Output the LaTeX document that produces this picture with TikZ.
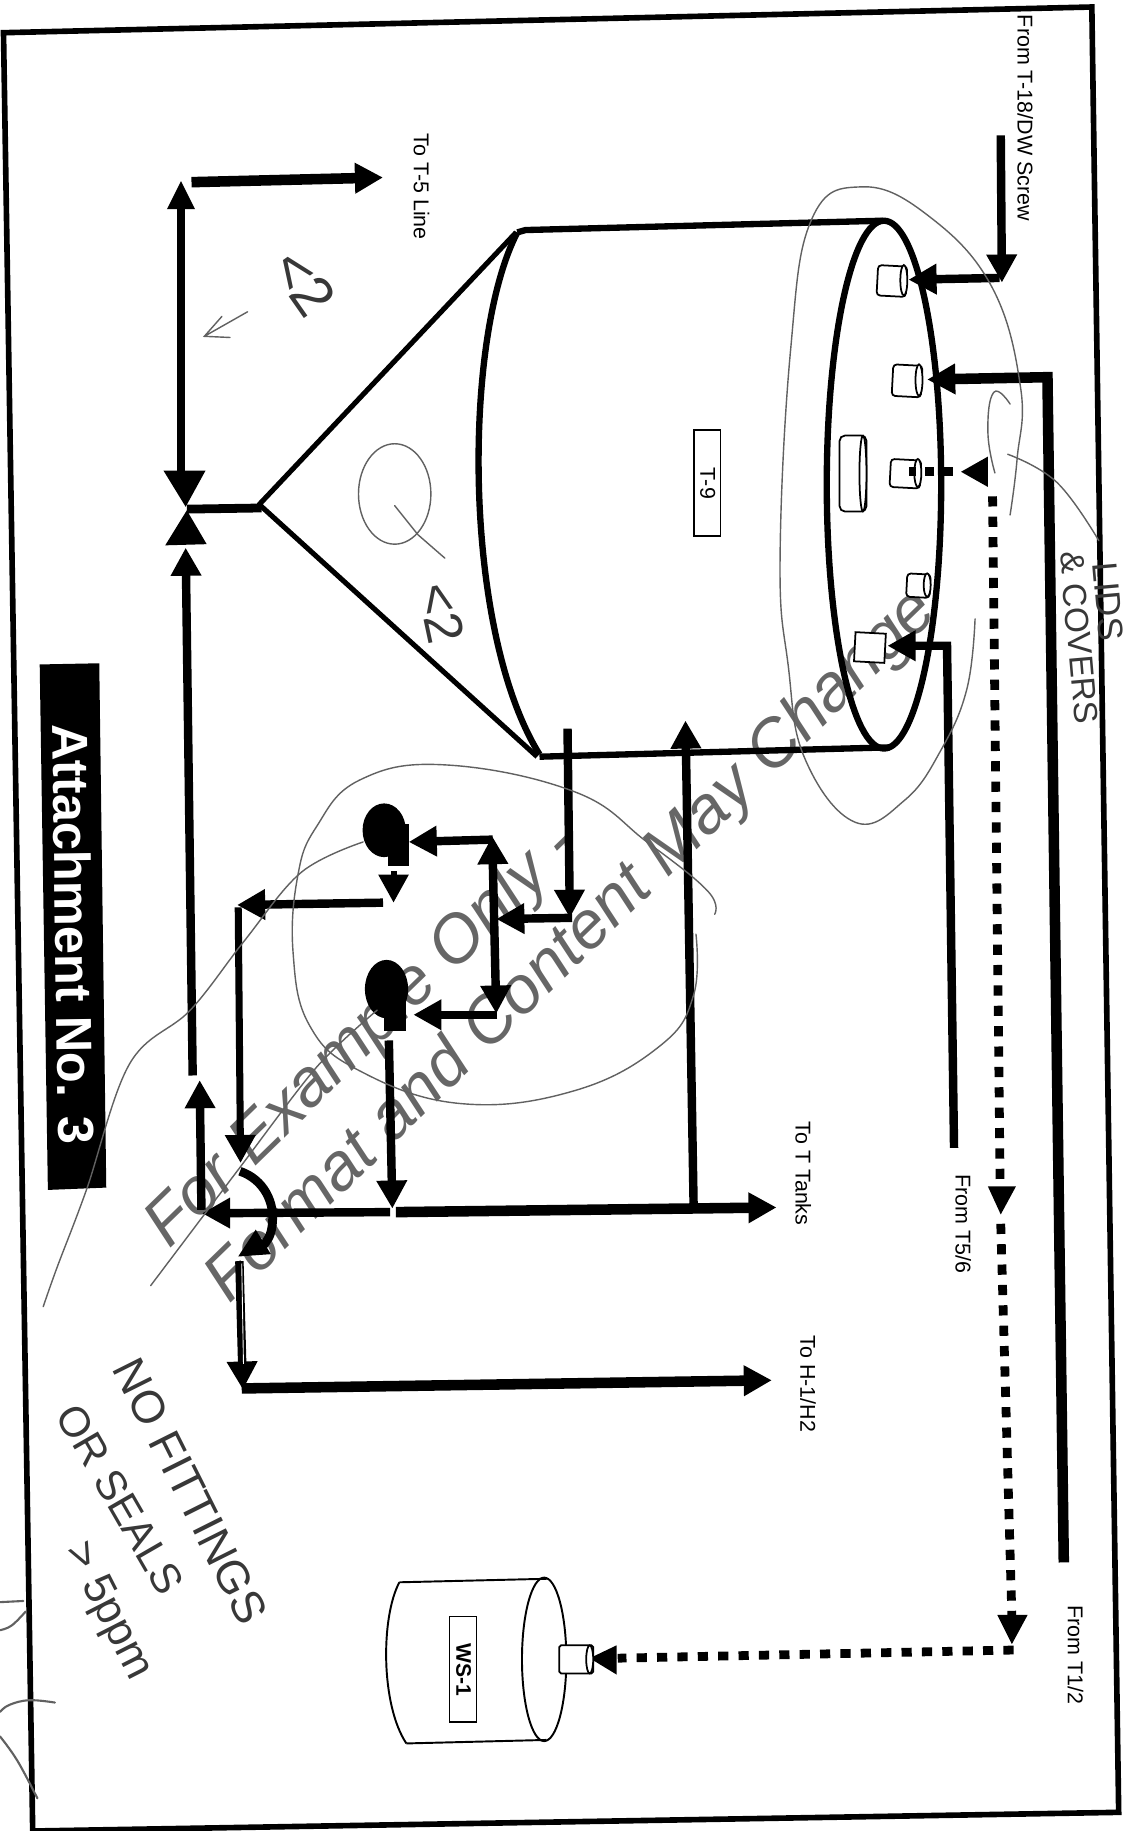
\documentclass[tikz,border=0pt]{standalone}
\usepackage{fontspec}
\setmainfont{Liberation Sans}
\usetikzlibrary{arrows.meta}
\tikzset{
  pipe/.style={line width=4.8pt,draw=black},
  heavypipe/.style={line width=6pt,draw=black},
  hd/.style={-{Triangle[length=16pt,width=16.5pt]}},
  hdboth/.style={{Triangle[length=16pt,width=16.5pt]}-{Triangle[length=16pt,width=16.5pt]}},
  dashpipe/.style={line width=5pt,draw=black,dash pattern=on 5.8pt off 5.8pt},
  shellline/.style={line width=3.6pt,draw=black,line join=round},
  coneline/.style={line width=2.9pt,draw=black,line join=round},
  thinshell/.style={line width=1pt,draw=black,fill=white},
  labeltext/.style={rotate=-90,font=\fontsize{12.2}{14}\selectfont,inner sep=0pt},
  tagbox/.style={draw=black,line width=0.9pt,fill=white,inner sep=0pt},
  penmark/.style={line width=0.8pt,draw=black!62,line cap=round},
  handtext/.style={text=black!78,inner sep=0pt},
  water/.style={text=black!60,inner sep=0pt,rotate=44.2,font=\itshape\fontsize{38}{40}\selectfont},
}
\newcommand{\nozzle}[5]{%
  \draw[thinshell,rounded corners=2pt,rotate around={-3:(#1,#3)}] (#1,#3) rectangle (#2,#4);
  \draw[thinshell] (#2-3,{(#3+#4)/2}) ellipse [x radius=3,y radius={(#4-#3)/2}];
  \coordinate (#5) at (#2,{(#3+#4)/2});
}
\begin{document}
\begin{tikzpicture}[x=0.02336cm,y=-0.02336cm]
\useasboundingbox (0,0) rectangle (965,1568);
\fill[white] (0,0) rectangle (965,1568);

% watermark under the drawing
\node[water] (wm1) at (311,888) {For Example Only -};
\node[water] (wm2) at (490,811) {Format and Content May Change};

% frame
\draw[line width=3.2pt,line join=miter] (3,28) -- (935,6) -- (958,1552) -- (28,1568) -- cycle;

% title bar
\fill[black] (34,569) -- (85,568) -- (91,1017) -- (41,1019) -- cycle;
\node[rotate=-89.2,text=white,inner sep=0pt,font=\bfseries\fontsize{28.8}{30}\selectfont] (title) at (63,800) {Attachment No. 3};

% T-9 tank
\draw[shellline] (443,199) .. controls (396,290) and (396,540) .. (462,646);
\draw[shellline] (443,199) -- (450,197) -- (756,189);
\draw[shellline] (462,648) -- (762,640);
\draw[shellline] (757,415) ellipse [x radius=49,y radius=226];
\draw[coneline] (442,199) -- (222,432) -- (460,648);
\draw[line width=5pt] (224,435) -- (160,436);
\node[tagbox,minimum width=15.2pt,minimum height=60.3pt] (t9) at (605.5,413.5) {};
\node[labeltext] (t9t) at (606,414) {T-9};

\nozzle{752}{777}{227}{253}{n1}
\nozzle{765}{790}{312}{339}{n2}
\nozzle{763}{789}{393}{417}{n3}
\draw[thinshell,rounded corners=3pt] (719,373) rectangle (742,438);
\draw[thinshell] (739,405.5) ellipse [x radius=3,y radius=32.5];
\nozzle{777}{797}{491}{511}{n4}
\draw[thinshell,rotate around={-3:(745,554)}] (732,542) rectangle (758,567);
\coordinate (n5) at (759,553);

% valve
\fill[black] (140,403) -- (176,403) -- (159,434) -- cycle;
\fill[black] (141.5,467) -- (177,466) -- (160,437) -- cycle;
\coordinate (vtop) at (155,404);
\coordinate (vbot) at (159,469);

% To T-5 line
\coordinate (t5c) at (155,155);
\coordinate (t5a) at (164,156);
\coordinate (t5b) at (328,152);
\draw[pipe] (vtop) -- (155,178);
\fill[black] (143,179) -- (167,179) -- (155,155) -- cycle;
\draw[heavypipe,hd] (t5a) -- (t5b);

% feed into valve
\coordinate (vf) at (165,921);
\draw[pipe,hd] (vf) -- (vbot);

% feed up from main header
\coordinate (hleft) at (173,1039);
\coordinate (hup) at (171,925);
\draw[pipe,hd] (172.5,1036) -- (hup);

% main header
\coordinate (hm1) at (334,1038);
\coordinate (hm2) at (339,1038);
\coordinate (hend) at (665,1034);
\draw[pipe,hd] (hm1) -- (hleft);
\draw[heavypipe,hd] (hm2) -- (hend);

% branch to tank
\coordinate (bt0) at (594,1034);
\coordinate (bt1) at (587,617);
\draw[pipe,hd] (bt0) -- (bt1);

% tank outlet
\coordinate (to0) at (486,624);
\coordinate (to1) at (488,786);
\coordinate (to2) at (425,787);
\draw[pipe,hd] (to0) -- (to1);
\draw[pipe,hd] (490,786) -- (to2);

% manifold
\coordinate (mt) at (421.5,716);
\coordinate (mb) at (425,868);
\draw[pipe,hdboth] (mt) -- (mb);

% pumps
\fill[black] (329,711) ellipse [x radius=18.5,y radius=23];
\fill[black] (332,706) rectangle (350,742);
\fill[black] (331,847) ellipse [x radius=18.5,y radius=25];
\fill[black] (329,852) rectangle (348,883);
\coordinate (p1) at (350,721);
\coordinate (p2) at (354,869);
\draw[pipe,hd] (422,719) -- (p1);
\draw[pipe,hd] (426,869) -- (p2);

% upper pump discharge
\coordinate (pd1) at (337,746);
\coordinate (pd2) at (337,773);
\draw[line width=3.4pt,hd] (pd1) -- (pd2);
\coordinate (pd3) at (328,773);
\coordinate (pd4) at (203,775);
\draw[pipe,hd] (pd3) -- (pd4);
\coordinate (pd5) at (204,777);
\coordinate (pd6) at (206,996);
\draw[line width=4pt,hd] (pd5) -- (pd6);

% lower pump discharge
\coordinate (pl1) at (333,891);
\coordinate (pl2) at (336,1035);
\draw[pipe,hd] (pl1) -- (pl2);

% curved arrow
\draw[line width=5pt] (205.5,1003) .. controls (226,1010) and (236,1030) .. (233,1050) .. controls (232,1058) and (229,1063) .. (224,1068);
\fill[black] (204,1076) -- (219,1053) -- (232,1074) -- cycle;

% line to H-1/H2
\coordinate (h0) at (205,1080);
\coordinate (h1) at (208,1190);
\coordinate (h2) at (207,1189);
\coordinate (h3) at (661,1182);
\draw[pipe,hd] (h0) -- (h1);
\draw[white,line width=0.5pt] (207,1082) -- (208.5,1168);
\draw[heavypipe,hd] (h2) -- (h3);

% lid feeds
\coordinate (s0) at (857,116);
\coordinate (s1) at (858,242);
\draw[pipe,hd] (s0) -- (s1);
\draw[pipe,hd] (856,238) -- (778,239.5);
\draw[heavypipe,hd,line join=miter] (911,1338) -- (897,323) -- (794,325);
\draw[pipe,hd,line join=miter] (817,983) -- (811,553) -- (760,553);

% dashed lines
\draw[dashpipe] (850,425) -- (856.5,1016);
\fill[black] (846,1016) -- (870,1016) -- (857,1040) -- cycle;
\draw[dashpipe] (857,1048) -- (866.5,1383);
\fill[black] (854,1383) -- (880,1383) -- (866.5,1408) -- cycle;
\draw[dashpipe] (868,1413) -- (529,1420);
\fill[black] (528,1409) -- (528,1434) -- (505,1420) -- cycle;
\fill[black] (846,391) -- (846,417) -- (823,404) -- cycle;
\draw[line width=5pt,dash pattern=on 5.3pt off 5.3pt] (816,404) -- (778,404);

% WS-1
\draw[line width=1.1pt] (342,1355) .. controls (326,1385) and (326,1460) .. (348,1493);
\draw[line width=1.1pt] (342,1355) -- (468,1352);
\draw[line width=1.1pt] (348,1493) -- (468,1490);
\draw[line width=1.1pt] (466,1421) ellipse [x radius=19,y radius=70];
\node[tagbox,minimum width=15.2pt,minimum height=60.3pt] (ws) at (396.5,1429.5) {};
\node[labeltext,font=\bfseries\fontsize{12}{14}\selectfont] (wst) at (397,1430) {WS-1};
\draw[thinshell,rounded corners=1pt] (479,1409) rectangle (508,1433);
\draw[thinshell] (505,1421) ellipse [x radius=3,y radius=12];

% labels
\node[labeltext] (l1) at (361,160) {To T-5 Line};
\node[labeltext] (l2) at (878,101) {From T-18/DW Screw};
\node[labeltext] (l3) at (688,1005) {To T Tanks};
\node[labeltext] (l4) at (692,1185) {To H-1/H2};
\node[labeltext] (l5) at (825,1048) {From T5/6};
\node[labeltext] (l6) at (921,1417) {From T1/2};

% pen marks
\draw[penmark] (338,423) ellipse [x radius=31,y radius=43];
\draw[penmark] (338,433) -- (358,458) -- (381,478);
\draw[penmark] (212,267) -- (175,288) (190,271) -- (175,288) -- (197,289);
\draw[penmark] plot[smooth,tension=0.7] coordinates {(865,441) (871,393) (874,332) (849,245) (794,184) (738,160) (695,188) (677,300) (668,480) (675,570) (689,649) (732,704) (775,685) (806,642) (828,590) (835,530)};
\draw[penmark] plot[smooth,tension=0.8] coordinates {(865,346) (851,336) (846,370) (852,405)};
\draw[penmark] plot[smooth,tension=0.7] coordinates {(863,389) (905,413) (941,463)};
\draw[penmark] plot[smooth,tension=0.7] coordinates {(612,783) (606,763) (554,721) (492,678) (381,655) (308,668) (271,708) (255,750) (251,816) (265,878) (308,917) (394,945) (492,934) (566,895) (594,852) (596,800)};
\draw[penmark] plot[smooth,tension=0.6] coordinates {(311,721) (258,747) (209,806) (163,865) (111,911) (74,1019) (49,1085) (37,1119)};
\draw[penmark] plot[smooth,tension=0.5] coordinates {(323,865) (271,914) (203,1003) (129,1101)};
\draw[penmark,line width=1.2pt] plot[smooth,tension=0.7] coordinates {(0,1372) (20,1371)};
\draw[penmark,line width=1.2pt] plot[smooth,tension=0.7] coordinates {(22,1380) (10,1392) (0,1396)};
\draw[penmark,line width=1.2pt] plot[smooth,tension=0.7] coordinates {(47,1458) (25,1456) (8,1460) (0,1466)};
\draw[penmark,line width=1.2pt] plot[smooth,tension=0.7] coordinates {(0,1487) (15,1508) (32,1540)};

% handwritten text
\node[handtext,rotate=-63.4,font=\fontsize{26}{30}\selectfont] (hw1) at (163,1277) {NO FITTINGS};
\node[handtext,rotate=-60,font=\fontsize{24}{28}\selectfont] (hw2) at (103,1284) {OR SEALS};
\node[handtext,rotate=-63,font=\fontsize{25}{28}\selectfont] (hw3) at (92,1380) {> 5ppm};
\node[handtext,rotate=-85,font=\fontsize{19}{22}\selectfont] (hw4) at (924,546) {\& COVERS};
\node[handtext,rotate=-85,font=\fontsize{20}{24}\selectfont] (hw5) at (949,515) {LIDS};
\node[handtext,rotate=-55,font=\fontsize{33}{36}\selectfont] (hw6) at (260,242) {<2};
\node[handtext,rotate=-78,font=\fontsize{30}{34}\selectfont] (hw7) at (378,525) {<2};
\end{tikzpicture}
\end{document}
